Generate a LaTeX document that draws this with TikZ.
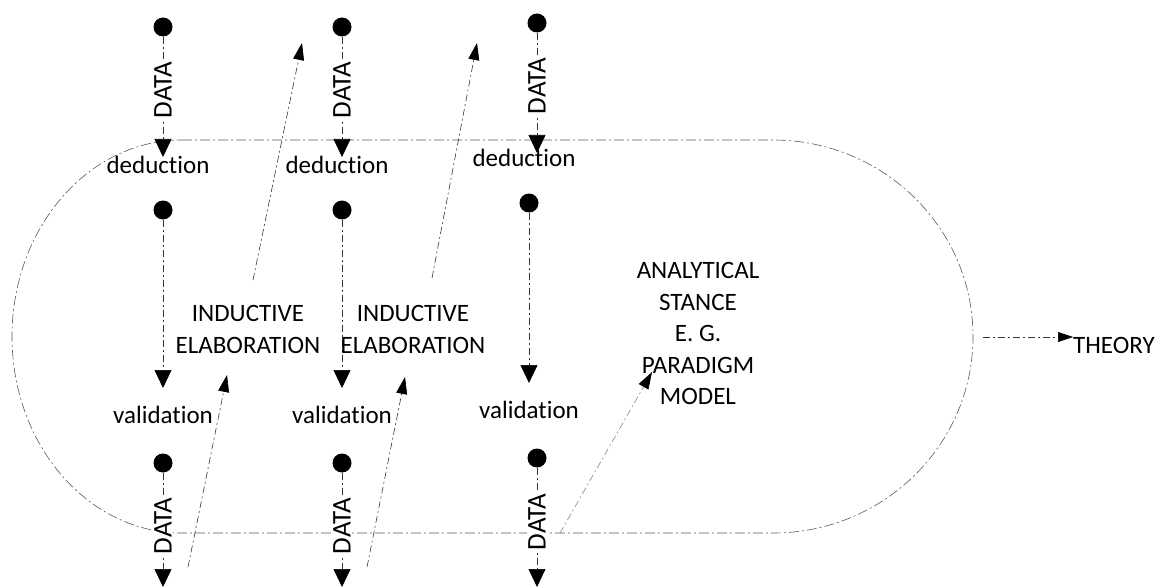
\documentclass[tikz,border=0pt]{standalone}
\usepackage{fontspec}
\setmainfont{Carlito}[Ligatures={NoCommon}]
\usetikzlibrary{arrows.meta}
\begin{document}
\begin{tikzpicture}[x=1pt,y=-1pt,
  dotn/.style={circle,fill=black,minimum size=19pt,inner sep=0pt},
  txt/.style={font=\fontsize{25}{31.5}\selectfont,inner sep=0pt},
  datal/.style={font=\fontsize{27}{31.5}\selectfont,rotate=90,fill=white,inner sep=1.5pt},
  conn/.style={draw=black!80,line width=0.6pt,dash pattern=on 7pt off 3pt on 2pt off 3pt},
  arr/.style={conn,-{Triangle[length=18pt,width=17pt,color=black]}},
  arrs/.style={conn,-{Triangle[length=17pt,width=11pt,color=black]}},
  outline/.style={draw=black!65,line width=0.6pt,dash pattern=on 10pt off 3pt on 2pt off 3pt}]
\useasboundingbox (0,0) rectangle (1155,588);

% stadium outline
\draw[outline] (182,140) -- (773,140)
  arc[start angle=-90,end angle=90,x radius=200,y radius=196.5]
  -- (182,533)
  arc[start angle=90,end angle=270,x radius=170,y radius=196.5] -- cycle;

% column 1
\node[dotn] (a1) at (163,27) {};
\coordinate (at1) at (163,157);
\draw[arr] (a1) -- (at1);
\node[datal] (da1) at (163,90) {DATA};
\node[txt,anchor=base] (ded1) at (158,173) {deduction};
\node[dotn] (b1) at (163,210) {};
\coordinate (bt1) at (163,388);
\draw[arr] (b1) -- (bt1);
\node[txt,anchor=base] (val1) at (163,423) {validation};
\node[dotn] (c1) at (163,463) {};
\coordinate (ct1) at (163,587);
\draw[arr] (c1) -- (ct1);
\node[datal] (dc1) at (163,526) {DATA};

% column 2
\node[dotn] (a2) at (342,27) {};
\coordinate (at2) at (342,157);
\draw[arr] (a2) -- (at2);
\node[datal] (da2) at (342,90) {DATA};
\node[txt,anchor=base] (ded2) at (337,173) {deduction};
\node[dotn] (b2) at (342,210) {};
\coordinate (bt2) at (342,388);
\draw[arr] (b2) -- (bt2);
\node[txt,anchor=base] (val2) at (342,423) {validation};
\node[dotn] (c2) at (342,463) {};
\coordinate (ct2) at (342,587);
\draw[arr] (c2) -- (ct2);
\node[datal] (dc2) at (342,526) {DATA};

% column 3
\node[dotn] (a3) at (537,23) {};
\coordinate (at3) at (537,153);
\draw[arr] (a3) -- (at3);
\node[datal] (da3) at (537,86) {DATA};
\node[txt,anchor=base] (ded3) at (524,167) {deduction};
\node[dotn] (b3) at (529,203) {};
\coordinate (bt3) at (529,383);
\draw[arr] (b3) -- (bt3);
\node[txt,anchor=base] (val3) at (529,418) {validation};
\node[dotn] (c3) at (537,458) {};
\coordinate (ct3) at (537,587);
\draw[arr] (c3) -- (ct3);
\node[datal] (dc3) at (537,522) {DATA};

% inductive elaboration
\node[txt,align=center] (ind1) at (248,329.5) {INDUCTIVE\\ELABORATION};
\node[txt,align=center] (ind2) at (413,329.5) {INDUCTIVE\\ELABORATION};
\coordinate (i1a) at (188,567);
\coordinate (i1b) at (227,375);
\coordinate (i1c) at (253,280);
\coordinate (i1d) at (302,43);
\draw[arrs] (i1a) -- (i1b);
\draw[arrs] (i1c) -- (i1d);
\coordinate (i2a) at (367,567);
\coordinate (i2b) at (405,377);
\coordinate (i2c) at (432,278);
\coordinate (i2d) at (477,43);
\draw[arrs] (i2a) -- (i2b);
\draw[arrs] (i2c) -- (i2d);

% analytical stance
\node[txt,align=center] (an) at (698,333.5) {ANALYTICAL\\STANCE\\E. G.\\PARADIGM\\MODEL};
\coordinate (ms) at (560,533);
\coordinate (mt) at (652,372);
\draw[arrs,draw=black!45] (ms) -- (mt);

% theory
\node[txt,anchor=base west] (th) at (1073,353) {THEORY};
\coordinate (sr) at (983,337);
\draw[conn,-{Triangle[length=15pt,width=10pt,color=black]}] (sr) -- (th.west |- sr);
\end{tikzpicture}
\end{document}
